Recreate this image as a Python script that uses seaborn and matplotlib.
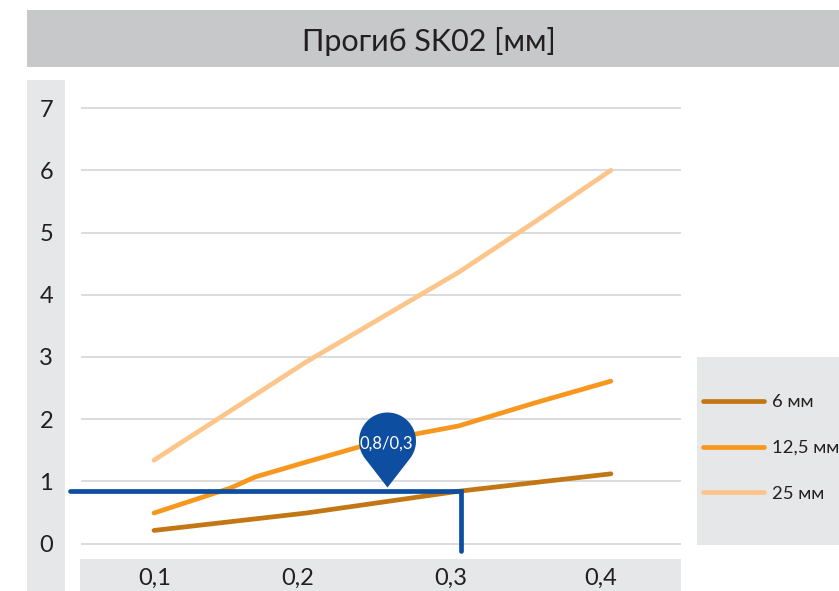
import numpy as np
import pandas as pd
import matplotlib
matplotlib.use("Agg")
import matplotlib.pyplot as plt
from matplotlib.patches import Rectangle
from matplotlib.path import Path
import seaborn as sns

x_6 = [0.1, 0.2, 0.3, 0.4]
y_6 = [0.21, 0.49, 0.84, 1.12]
x_12 = [0.1, 0.15, 0.1665, 0.2, 0.25, 0.3, 0.35, 0.4]
y_12 = [0.49, 0.89, 1.07, 1.31, 1.66, 1.89, 2.26, 2.61]
x_25 = [0.1, 0.2, 0.3, 0.35, 0.4]
y_25 = [1.34, 2.92, 4.36, 5.17, 6.0]
series_names = ["6 мм", "12,5 мм", "25 мм"]
series_colors = ["#c27614", "#f8971d", "#fdc589"]
y_ticks = [0, 1, 2, 3, 4, 5, 6, 7]
x_tick_labels = ["0,1", "0,2", "0,3", "0,4"]
x_tick_pos = [0.1007, 0.1945, 0.295, 0.3935]
marker_x, marker_y = 0.3015, 0.84
pin_x, pin_y = 0.2528, 0.91
pin_label = "0,8/0,3"
title = "Прогиб SK02 [мм]"

W, H = 839, 591
sns.set_theme(style="white")
plt.rcParams["font.family"] = ["Lato", "DejaVu Sans"]
plt.rcParams["lines.solid_capstyle"] = "round"
plt.rcParams["text.color"] = "#231f20"

fig = plt.figure(figsize=(W / 100, H / 100), dpi=100, facecolor="white")

def panel(x0, y0, x1, y1, color):
    fig.add_artist(Rectangle((x0 / W, 1 - y1 / H), (x1 - x0) / W, (y1 - y0) / H,
                             transform=fig.transFigure, fc=color, ec="none", zorder=-5))

panel(27, 10, 839, 67, "#c7c8ca")
panel(27, 80, 65, 591, "#e6e7e8")
panel(80, 559, 681, 591, "#e6e7e8")
panel(697, 357, 839, 545, "#e6e7e8")

ax_l, ax_r, ax_t, ax_b = 81, 681, 100, 555
ax = fig.add_axes([ax_l / W, 1 - ax_b / H, (ax_r - ax_l) / W, (ax_b - ax_t) / H])
ax.patch.set_alpha(0)

df = pd.DataFrame({
    "x": x_6 + x_12 + x_25,
    "y": y_6 + y_12 + y_25,
    "s": [series_names[0]] * len(x_6) + [series_names[1]] * len(x_12) + [series_names[2]] * len(x_25),
})
sns.lineplot(data=df, x="x", y="y", hue="s", hue_order=series_names, palette=series_colors,
             estimator=None, sort=False, lw=3.4, ax=ax, zorder=3)

px_per_x = 1523.0
px_per_y = 62.2
ax.set_xlim(0.1 + (ax_l - 154) / px_per_x, 0.1 + (ax_r - 154) / px_per_x)
ax.set_ylim((543.5 - ax_b) / px_per_y, (543.5 - ax_t) / px_per_y)
ax.set_xlabel("")
ax.set_ylabel("")
ax.set_yticks(y_ticks)
ax.set_xticks(x_tick_pos)
ax.set_xticklabels(x_tick_labels)
ax.tick_params(axis="both", length=0, labelsize=17, labelcolor="#231f20")
ax.tick_params(axis="y", pad=25)
ax.tick_params(axis="x", pad=9)
for lab in ax.get_yticklabels():
    lab.set_ha("center")
ax.yaxis.grid(True, color="#d1d2d4", lw=1.1, zorder=0)
ax.xaxis.grid(False)
sns.despine(ax=ax, left=True, bottom=True, top=True, right=True)

left_x = 0.1 + (70 - 154) / px_per_x
low_y = (543.5 - 551) / px_per_y
ax.plot([left_x, marker_x, marker_x], [marker_y, marker_y, low_y], color="#0d4ea1", lw=3.4,
        solid_capstyle="round", solid_joinstyle="miter", clip_on=False, zorder=4)

d = 46.5 / 28.5
a = np.degrees(np.arccos(1 / d))
arc = Path.arc(-90 + a, 270 - a)
verts = np.vstack([arc.vertices + [0, d], [[0, 0]], [[0, 0]]])
codes = list(arc.codes) + [Path.LINETO, Path.CLOSEPOLY]
pin = Path(verts, codes)
ms = 28.5 * 0.72 * 2 * (d + 1)
ax.plot([pin_x], [pin_y], marker=pin, ms=ms, mfc="#0d4ea1", mec="none", ls="none",
        clip_on=False, zorder=5)
ax.text(pin_x, pin_y + 46.5 / px_per_y - 0.05, pin_label, color="white", fontsize=12,
        ha="center", va="center", zorder=6)

handles, labels = ax.get_legend_handles_labels()
ax.legend(handles, labels, loc="center left", frameon=False, fontsize=13.3,
          bbox_to_anchor=(696 / W, 1 - 448 / H), bbox_transform=fig.transFigure,
          handlelength=3.3, handletextpad=0.42, labelspacing=1.6, borderaxespad=0, borderpad=0.4)

fig.text(429 / W, 1 - 41 / H, title, fontsize=22, ha="center", va="center", color="#231f20")

fig.savefig("out.png", dpi=100)
